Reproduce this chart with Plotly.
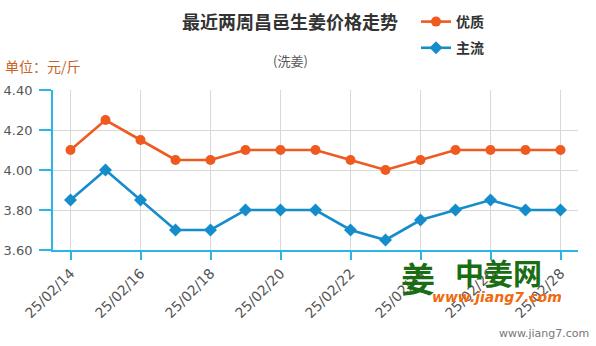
import plotly.graph_objects as go

# Daily ginger prices in Changyi (yuan per jin), washed ginger
dates = ["25/02/14", "25/02/15", "25/02/16", "25/02/17", "25/02/18", "25/02/19",
         "25/02/20", "25/02/21", "25/02/22", "25/02/23", "25/02/24", "25/02/25",
         "25/02/26", "25/02/27", "25/02/28"]
premium = [4.10, 4.25, 4.15, 4.05, 4.05, 4.10, 4.10, 4.10, 4.05, 4.00, 4.05, 4.10, 4.10, 4.10, 4.10]
mainstream = [3.85, 4.00, 3.85, 3.70, 3.70, 3.80, 3.80, 3.80, 3.70, 3.65, 3.75, 3.80, 3.85, 3.80, 3.80]
y_ticks = [3.60, 3.80, 4.00, 4.20, 4.40]

ORANGE = "#ee5a1f"
BLUE = "#168dcb"
AXIS = "#2db4e6"
GRID = "#d9d9d9"
FONT = "Noto Sans CJK SC"

W, H = 596, 346
L, R, T, B = 53, 18, 90, 96
PW, PH = W - L - R, H - T - B


def px(x):
    """Pixel column -> paper x."""
    return (x - L) / PW


def py(y):
    """Pixel row (from top) -> paper y."""
    return (H - B - y) / PH


fig = go.Figure()
fig.add_trace(go.Scatter(
    x=dates, y=premium, name="<b>优质</b>", mode="lines+markers", legendgroup="a",
    line=dict(color=ORANGE, width=2.6),
    marker=dict(symbol="circle", size=10, color=ORANGE),
))
fig.add_trace(go.Scatter(
    x=dates, y=mainstream, name="<b>主流</b>", mode="lines+markers", legendgroup="b",
    line=dict(color=BLUE, width=2.6),
    marker=dict(symbol="diamond", size=10, color=BLUE),
))

fig.update_layout(
    width=W, height=H,
    margin=dict(l=L, r=R, t=T, b=B, autoexpand=False),
    paper_bgcolor="white", plot_bgcolor="white",
    font=dict(family=FONT, color="#555555"),
    title=dict(
        text="<b>最近两周昌邑生姜价格走势</b>",
        x=290 / W, xanchor="center", y=1 - 23 / H, yanchor="middle",
        font=dict(size=18, color="#333333", family=FONT),
    ),
    showlegend=True,
    legend=dict(
        x=px(416), xanchor="left", y=py(6), yanchor="top",
        xref="paper", yref="paper",
        orientation="v", bgcolor="rgba(0,0,0,0)",
        font=dict(size=14, color="#333333", family=FONT),
        itemwidth=30, tracegroupgap=5,
    ),
    xaxis=dict(
        type="category", range=[-0.5, len(dates) - 0.5], automargin=False,
        tickmode="array", tickvals=dates[::2], ticktext=dates[::2],
        tickangle=-45, tickfont=dict(size=14, color="#555555", family="DejaVu Sans"),
        showgrid=True, gridcolor=GRID, gridwidth=1,
        showline=True, linecolor=AXIS, linewidth=1.5,
        ticks="outside", ticklen=8, tickcolor=AXIS, tickwidth=1.5,
        zeroline=False, fixedrange=True,
    ),
    yaxis=dict(
        range=[3.60, 4.40], automargin=False,
        tickmode="array", tickvals=y_ticks,
        ticktext=[f"{v:.2f}\u00a0" for v in y_ticks],
        tickfont=dict(size=13, color="#555555", family="DejaVu Sans"),
        showgrid=True, gridcolor=GRID, gridwidth=1,
        showline=True, linecolor=AXIS, linewidth=1.5,
        ticks="outside", ticklen=12, tickcolor=AXIS, tickwidth=1.5,
        zeroline=False, fixedrange=True,
    ),
)

annotations = [
    dict(text="(洗姜)", x=px(290), y=py(60), xanchor="center", yanchor="middle",
         font=dict(size=13, color="#555555", family=FONT)),
    dict(text="单位：元/斤", x=px(3), y=py(66), xanchor="left", yanchor="middle",
         font=dict(size=14, color="#c8621e", family=FONT)),
    # site watermark
    dict(text="<b>姜</b>", x=px(418), y=py(277), xanchor="center", yanchor="middle",
         font=dict(size=34, color="#1b6d14", family=FONT)),
    dict(text="<b>中姜网</b>", x=px(498), y=py(272), xanchor="center", yanchor="middle",
         font=dict(size=29, color="#1b6d14", family=FONT)),
    dict(text="<b><i>www.jiang7.com</i></b>", x=px(497), y=py(297),
         xanchor="center", yanchor="middle",
         font=dict(size=14, color="#f06a10", family="DejaVu Sans")),
    dict(text="www.jiang7.com", x=px(591), y=py(333), xanchor="right", yanchor="middle",
         font=dict(size=11, color="#777777", family="DejaVu Sans")),
]
for a in annotations:
    a.update(xref="paper", yref="paper", showarrow=False)
fig.update_layout(annotations=annotations)

fig.write_html("out.html")
